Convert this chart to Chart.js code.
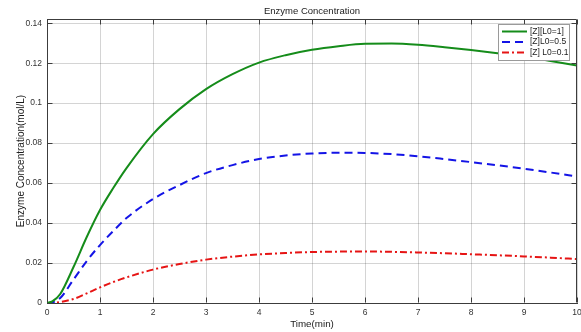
<!DOCTYPE html>
<html lang="en">
  <head>
    <meta charset="UTF-8">
    <title>Enzyme Concentration</title>
    <script src="https://cdn.jsdelivr.net/npm/chart.js"></script>
    <style>
      body { margin: 0; background: #fff; }
      #chart { display: block; }
    </style>
  </head>
  <body>
    <canvas id="chart" width="581" height="332"></canvas>
  <script>

// time points (min)
const times = [0, 0.1, 0.25, 0.5, 0.75, 1, 1.25, 1.5, 2, 2.5, 3, 3.5, 4, 4.5, 5, 5.5, 6, 6.5, 7, 7.5, 8, 8.5, 9, 9.5, 10];

// [Z] for L0 = 1
const zL1 = [0, 0.0008, 0.0045, 0.018, 0.033, 0.0465, 0.0575, 0.0675, 0.0845, 0.097, 0.107, 0.1145, 0.1203, 0.124, 0.1267, 0.1285, 0.1297, 0.1298, 0.1292, 0.128, 0.1266, 0.125, 0.1233, 0.1211, 0.1188];
// [Z] for L0 = 0.5
const zL05 = [0, 0.0003, 0.0025, 0.0117, 0.021, 0.029, 0.036, 0.0425, 0.052, 0.059, 0.065, 0.069, 0.072, 0.0738, 0.0748, 0.0752, 0.0751, 0.0745, 0.0734, 0.072, 0.0705, 0.0689, 0.0672, 0.0653, 0.0633];
// [Z] for L0 = 0.1
const zL01 = [0, 0.0001, 0.0005, 0.002, 0.0048, 0.0078, 0.0105, 0.0128, 0.0167, 0.0195, 0.0217, 0.0232, 0.0243, 0.025, 0.0255, 0.0257, 0.0258, 0.0256, 0.0253, 0.0249, 0.0244, 0.0239, 0.0233, 0.0227, 0.022];

const seriesLabels = ['[Z][L0=1]', '[Z]L0=0.5', '[Z] L0=0.1'];
const yTicks = [0, 0.02, 0.04, 0.06, 0.08, 0.1, 0.12, 0.14];
const chartTitle = 'Enzyme Concentration';

const FONT = '"Liberation Sans", Arial, Helvetica, sans-serif';

function toPoints(ys) {
  return times.map((t, i) => ({ x: t, y: ys[i] }));
}

// title centred over the plot area rather than the whole canvas
const axesTitle = {
  id: 'axesTitle',
  afterDraw(chart) {
    const c = chart.ctx;
    const a = chart.chartArea;
    c.save();
    c.font = '9.5px ' + FONT;
    c.fillStyle = '#1a1a1a';
    c.textAlign = 'center';
    c.textBaseline = 'middle';
    c.fillText(chartTitle, (a.left + a.right) / 2, a.top - 8);
    c.restore();
  }
};

// closed axes box with inward tick marks on all four sides
const axesBox = {
  id: 'axesBox',
  afterDatasetsDraw(chart) {
    const c = chart.ctx;
    const a = chart.chartArea;
    const L = Math.round(a.left) + 0.5, R = Math.round(a.right) - 0.5;
    const T = Math.round(a.top) + 0.5, B = Math.round(a.bottom) - 0.5;
    c.save();
    c.strokeStyle = '#3c3c3c';
    c.lineWidth = 1;
    c.beginPath();
    c.moveTo(L, T); c.lineTo(R, T); c.lineTo(R, B);
    chart.scales.x.ticks.forEach(t => {
      const px = Math.round(chart.scales.x.getPixelForValue(t.value)) + 0.5;
      c.moveTo(px, B); c.lineTo(px, B - 5);
      c.moveTo(px, T); c.lineTo(px, T + 5);
    });
    chart.scales.y.ticks.forEach(t => {
      const py = Math.round(chart.scales.y.getPixelForValue(t.value)) + 0.5;
      c.moveTo(L, py); c.lineTo(L + 5, py);
      c.moveTo(R, py); c.lineTo(R - 5, py);
    });
    c.stroke();
    c.restore();
  }
};

// legend box in the top right corner
const boxLegend = {
  id: 'boxLegend',
  afterDraw(chart) {
    const c = chart.ctx;
    const area = chart.chartArea;
    const w = 71, h = 36;
    const x0 = Math.round(area.right) - 8 - w, y0 = Math.round(area.top) + 5;
    c.save();
    c.fillStyle = '#fff';
    c.fillRect(x0, y0, w, h);
    c.strokeStyle = '#9a9a9a';
    c.lineWidth = 1;
    c.strokeRect(x0 + 0.5, y0 + 0.5, w, h);
    c.font = '8.5px ' + FONT;
    c.textBaseline = 'middle';
    chart.data.datasets.forEach((ds, i) => {
      const y = y0 + 7.5 + i * 10.5;
      c.strokeStyle = ds.borderColor;
      c.lineWidth = 2;
      c.setLineDash(ds.borderDash || []);
      c.beginPath();
      c.moveTo(x0 + 4, y);
      c.lineTo(x0 + 29, y);
      c.stroke();
      c.setLineDash([]);
      c.fillStyle = '#1a1a1a';
      c.fillText(ds.label, x0 + 32, y);
    });
    c.restore();
  }
};

const ctx = document.getElementById('chart');

new Chart(ctx, {
  type: 'line',
  data: {
    datasets: [
      {
        label: seriesLabels[0],
        data: toPoints(zL1),
        borderColor: '#158c1a',
        borderWidth: 2,
        pointRadius: 0,
        cubicInterpolationMode: 'monotone'
      },
      {
        label: seriesLabels[1],
        data: toPoints(zL05),
        borderColor: '#1414e6',
        borderWidth: 2,
        borderDash: [8, 5],
        pointRadius: 0,
        cubicInterpolationMode: 'monotone'
      },
      {
        label: seriesLabels[2],
        data: toPoints(zL01),
        borderColor: '#e61414',
        borderWidth: 2,
        borderDash: [7, 3, 2, 3],
        pointRadius: 0,
        cubicInterpolationMode: 'monotone'
      }
    ]
  },
  options: {
    responsive: false,
    animation: false,
    devicePixelRatio: 1,
    layout: { padding: { left: 0, right: 4, top: 19, bottom: 0 } },
    plugins: {
      legend: { display: false },
      tooltip: { enabled: false },
      title: { display: false }
    },
    scales: {
      x: {
        type: 'linear',
        min: 0,
        max: 10,
        border: { display: true, color: '#3c3c3c' },
        grid: { color: 'rgba(0,0,0,0.17)', drawTicks: false },
        ticks: {
          stepSize: 1,
          padding: 5,
          color: '#333',
          font: { family: FONT, size: 8.5 },
          maxRotation: 0
        },
        title: {
          display: true,
          text: 'Time(min)',
          color: '#1a1a1a',
          font: { family: FONT, size: 9.8 },
          padding: { top: 0, bottom: 2 }
        },
        afterFit(scale) {
          scale.height = 29;
          // let the last label run off the edge instead of shrinking the plot
          scale.paddingRight = 0;
          scale.paddingLeft = 0;
        }
      },
      y: {
        min: 0,
        max: 0.1421,
        border: { display: true, color: '#3c3c3c' },
        grid: { color: 'rgba(0,0,0,0.17)', drawTicks: false },
        ticks: {
          padding: 5,
          color: '#333',
          font: { family: FONT, size: 8.5 },
          callback: v => String(+v.toFixed(2))
        },
        afterBuildTicks(scale) {
          scale.ticks = yTicks.map(v => ({ value: v }));
        },
        title: {
          display: true,
          text: 'Enzyme Concentration(mol/L)',
          color: '#1a1a1a',
          font: { family: FONT, size: 10 },
          padding: { top: 15, bottom: 0 }
        },
        afterFit(scale) {
          scale.width = 47;
          scale.paddingTop = 0;
          scale.paddingBottom = 0;
        }
      }
    }
  },
  plugins: [axesBox, boxLegend, axesTitle]
});

</script>
  </body>
</html>
